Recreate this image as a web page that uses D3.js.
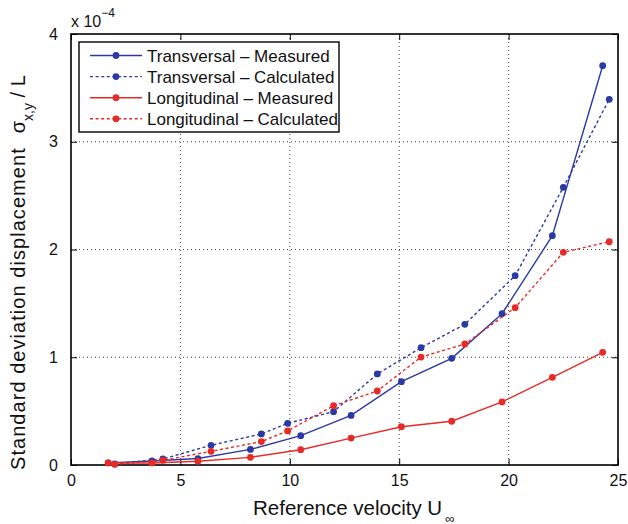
<!DOCTYPE html>
<html><head><meta charset="utf-8">
<script src="https://cdn.jsdelivr.net/npm/d3@7"></script>
<style>
body{margin:0;background:#fff;}
svg{display:block;font-family:"Liberation Sans",Arial,Helvetica,sans-serif;}
</style></head><body>
<svg id="c" width="628" height="524"></svg>
<script>
// data (values in units of 1e-4)
const xMeasured = [1.7, 3.7, 5.8, 8.2, 10.5, 12.8, 15.1, 17.4, 19.7, 22.0, 24.3];
const transMeasured = [0.02, 0.037, 0.06, 0.145, 0.272, 0.46, 0.773, 0.99, 1.404, 2.128, 3.706];
const longMeasured = [0.019, 0.019, 0.035, 0.071, 0.142, 0.25, 0.355, 0.406, 0.585, 0.814, 1.046];
const xCalculated = [2.0, 4.2, 6.4, 8.7, 9.9, 12.0, 14.0, 16.0, 18.0, 20.3, 22.5, 24.6];
const transCalculated = [0.01, 0.056, 0.183, 0.288, 0.387, 0.495, 0.845, 1.089, 1.306, 1.757, 2.577, 3.394];
const longCalculated = [0.006, 0.043, 0.127, 0.217, 0.316, 0.55, 0.687, 1.002, 1.123, 1.46, 1.974, 2.072];
const xTicks = [0, 5, 10, 15, 20, 25];
const yTicks = [0, 1, 2, 3, 4];
const seriesNames = ["Transversal \u2013 Measured", "Transversal \u2013 Calculated", "Longitudinal \u2013 Measured", "Longitudinal \u2013 Calculated"];

const BLUE = "rgb(42,58,165)", RED = "rgb(232,42,38)";
const series = [
  {name: seriesNames[0], xs: xMeasured, ys: transMeasured, color: BLUE, dash: null},
  {name: seriesNames[1], xs: xCalculated, ys: transCalculated, color: BLUE, dash: "3,2.6"},
  {name: seriesNames[2], xs: xMeasured, ys: longMeasured, color: RED, dash: null},
  {name: seriesNames[3], xs: xCalculated, ys: longCalculated, color: RED, dash: "3,2.6"}
];

const L = 71, R = 618, T = 34, B = 465;
const svg = d3.select("#c");
const x = d3.scaleLinear().domain([0, 25]).range([L, R]);
const y = d3.scaleLinear().domain([0, 4]).range([B, T]);

// grid
const grid = svg.append("g").attr("stroke", "#444").attr("stroke-width", 1).attr("stroke-dasharray", "1,3");
xTicks.slice(1, -1).forEach(t => grid.append("line").attr("x1", x(t)).attr("x2", x(t)).attr("y1", T).attr("y2", B));
yTicks.slice(1, -1).forEach(t => grid.append("line").attr("y1", y(t)).attr("y2", y(t)).attr("x1", L).attr("x2", R));

// axes
const tk = 6;
const ax = svg.append("g").attr("transform", `translate(0,${B})`)
  .call(d3.axisBottom(x).tickValues(xTicks).tickSizeInner(-tk).tickSizeOuter(0).tickPadding(12).tickFormat(d3.format("d")));
const axT = svg.append("g").attr("transform", `translate(0,${T})`)
  .call(d3.axisTop(x).tickValues(xTicks).tickSizeInner(-tk).tickSizeOuter(0).tickFormat(""));
const ay = svg.append("g").attr("transform", `translate(${L},0)`)
  .call(d3.axisLeft(y).tickValues(yTicks).tickSizeInner(-tk).tickSizeOuter(0).tickPadding(13).tickFormat(d3.format("d")));
const ayR = svg.append("g").attr("transform", `translate(${R},0)`)
  .call(d3.axisRight(y).tickValues(yTicks).tickSizeInner(-tk).tickSizeOuter(0).tickFormat(""));
[ax, axT, ay, ayR].forEach(g => {
  g.select(".domain").remove();
  g.selectAll("line").attr("stroke", "#000").attr("stroke-width", 1);
  g.selectAll("text").attr("font-size", 16).attr("fill", "#111").attr("font-family", "Liberation Sans, Arial, sans-serif");
});
ax.selectAll("text").attr("dy", "0.71em").attr("y", 10);

// box
svg.append("rect").attr("x", L).attr("y", T).attr("width", R - L).attr("height", B - T)
  .attr("fill", "none").attr("stroke", "#000").attr("stroke-width", 1.6);

// lines
const line = d3.line().x(d => x(d[0])).y(d => y(d[1]));
series.forEach(s => {
  const pts = s.xs.map((v, i) => [v, s.ys[i]]);
  svg.append("path").datum(pts).attr("d", line).attr("fill", "none")
    .attr("stroke", s.color).attr("stroke-width", 1.4).attr("stroke-dasharray", s.dash);
  svg.append("g").selectAll("circle").data(pts).join("circle")
    .attr("cx", d => x(d[0])).attr("cy", d => y(d[1])).attr("r", 3.4).attr("fill", s.color);
});

// legend
const lg = svg.append("g");
lg.append("rect").attr("x", 79).attr("y", 42).attr("width", 260).attr("height", 90)
  .attr("fill", "#fff").attr("stroke", "#000").attr("stroke-width", 1.4);
series.forEach((s, i) => {
  const yy = 55.5 + i * 21.1;
  lg.append("line").attr("x1", 90).attr("x2", 142).attr("y1", yy).attr("y2", yy)
    .attr("stroke", s.color).attr("stroke-width", 1.4).attr("stroke-dasharray", s.dash);
  lg.append("circle").attr("cx", 116).attr("cy", yy).attr("r", 3.4).attr("fill", s.color);
  lg.append("text").attr("x", 147).attr("y", yy + 6.3).attr("font-size", 17).attr("fill", "#111").text(s.name);
});

// exponent
const ex = svg.append("text").attr("x", 71).attr("y", 27).attr("font-size", 16).attr("fill", "#111");
ex.append("tspan").text("x 10");
ex.append("tspan").attr("font-size", 12).attr("dy", -10).text("\u22124");

// x label
const xl = svg.append("text").attr("x", 253).attr("y", 515).attr("font-size", 20.5).attr("fill", "#111");
xl.append("tspan").text("Reference velocity U");
xl.append("tspan").attr("font-size", 13).attr("dy", 7.5).attr("dx", 3).text("\u221e");

// y label
const yl = svg.append("text").attr("transform", "translate(25,470) rotate(-90)").attr("font-size", 20).attr("fill", "#111");
yl.append("tspan").attr("letter-spacing", 1.05).text("Standard deviation displacement");
yl.append("tspan").attr("dx", 14).text("\u03c3");
yl.append("tspan").attr("font-size", 14).attr("dy", 8).text("x,y");
yl.append("tspan").attr("dy", -8).text(" / L");
</script></body></html>
